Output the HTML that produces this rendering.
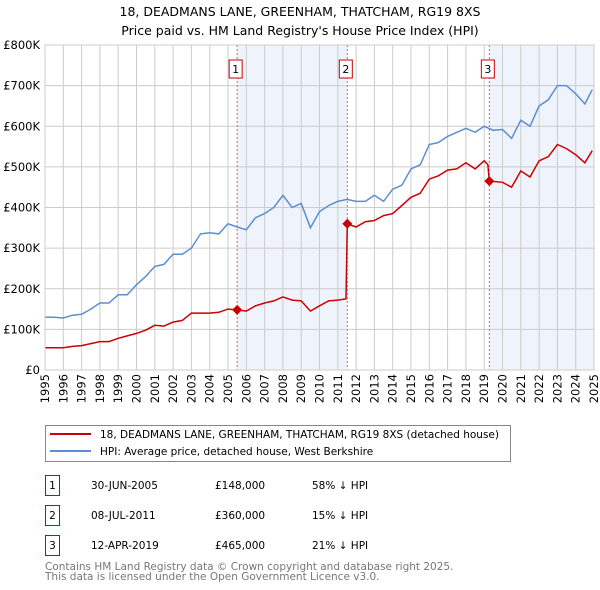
<!DOCTYPE html>
<html><head><meta charset="utf-8"><style>
body{margin:0;background:#fff;font-family:"Liberation Sans","DejaVu Sans",sans-serif;}
#wrap{position:relative;width:600px;height:590px;overflow:hidden}
svg text{font-family:"DejaVu Sans","Liberation Sans",sans-serif;}
</style></head><body>
<div id="wrap">
<svg id="chart" width="600" height="590"></svg>
</div>
<script>
const hpiYears=[1995,1995.5,1996,1996.5,1997,1997.5,1998,1998.5,1999,1999.5,2000,2000.5,2001,2001.5,2002,2002.5,2003,2003.5,2004,2004.5,2005,2005.5,2006,2006.5,2007,2007.5,2008,2008.5,2009,2009.5,2010,2010.5,2011,2011.5,2012,2012.5,2013,2013.5,2014,2014.5,2015,2015.5,2016,2016.5,2017,2017.5,2018,2018.5,2019,2019.5,2020,2020.5,2021,2021.5,2022,2022.5,2023,2023.5,2024,2024.5,2024.9];
const hpiValues=[130,130,128,135,137,150,165,165,185,185,210,230,255,260,285,285,300,335,338,335,360,352,345,375,385,400,430,400,410,350,390,405,415,420,415,415,430,415,445,455,495,505,555,560,575,585,595,585,600,590,592,570,615,600,650,665,700,700,680,655,690];
const propYears=[1995,1996,1996.5,1997,1998,1998.5,1999,2000,2000.5,2001,2001.5,2002,2002.5,2003,2004,2004.5,2005,2005.5,2006,2006.5,2007,2007.5,2008,2008.5,2009,2009.5,2010,2010.5,2011,2011.45,2011.52,2012,2012.5,2013,2013.5,2014,2014.5,2015,2015.5,2016,2016.5,2017,2017.5,2018,2018.5,2019,2019.2,2019.28,2020,2020.5,2021,2021.5,2022,2022.5,2023,2023.5,2024,2024.5,2024.9];
const propValues=[55,55,58,60,70,70,78,90,98,110,108,118,122,140,140,142,150,148,145,158,165,170,180,172,170,145,158,170,172,175,360,352,365,368,380,385,405,425,435,470,478,492,495,510,495,515,505,465,462,450,490,475,515,525,555,545,530,510,540];
const saleYears=[2005.5,2011.52,2019.28];
const saleValues=[148,360,465];
const saleLabels=["1","2","3"];
const yTicks=[0,100,200,300,400,500,600,700,800];
const yTickLabels=["£0","£100K","£200K","£300K","£400K","£500K","£600K","£700K","£800K"];
const xTicks=[1995,1996,1997,1998,1999,2000,2001,2002,2003,2004,2005,2006,2007,2008,2009,2010,2011,2012,2013,2014,2015,2016,2017,2018,2019,2020,2021,2022,2023,2024,2025];

const NS="http://www.w3.org/2000/svg";
const svg=document.getElementById('chart');
const X0=45,X1=594,Y0=370,Y1=45;
const xs=y=>X0+(y-1995)/(2025-1995)*(X1-X0);
const ys=v=>Y0-v/800*(Y0-Y1);
function mk(t,a,p){const e=document.createElementNS(NS,t);for(const k in a)e.setAttribute(k,a[k]);(p||svg).appendChild(e);return e;}

let t=mk('text',{x:300,y:16,'text-anchor':'middle','font-size':'12.5',fill:'#000'});t.textContent="18, DEADMANS LANE, GREENHAM, THATCHAM, RG19 8XS";


t=mk('text',{x:300,y:35,'text-anchor':'middle','font-size':'12.5',fill:'#000'});t.textContent="Price paid vs. HM Land Registry's House Price Index (HPI)";



let s=mk('rect',{x:xs(saleYears[0]),y:Y1,width:xs(saleYears[1])-xs(saleYears[0]),height:Y0-Y1,fill:'#eef3fc'});


s=mk('rect',{x:xs(saleYears[2]),y:Y1,width:X1-xs(saleYears[2]),height:Y0-Y1,fill:'#eef3fc'});



xTicks.forEach((yr,i)=>{
  const l=mk('line',{x1:xs(yr),x2:xs(yr),y1:Y1,y2:Y0,stroke:'#ccc','stroke-width':1});
  
  
  const tx=mk('text',{x:0,y:0,'font-size':'11.5',fill:'#000','text-anchor':'end',transform:`translate(${xs(yr)+4},${Y0+4}) rotate(-90)`});
  tx.textContent=yr;
  
  
});
yTicks.forEach((v,i)=>{
  const l=mk('line',{x1:X0,x2:X1,y1:ys(v),y2:ys(v),stroke:'#ccc','stroke-width':1});
  
  
  const tx=mk('text',{x:X0-5,y:ys(v)+4,'font-size':'11.5',fill:'#000','text-anchor':'end'});
  tx.textContent=yTickLabels[i];
  
  
});

saleYears.forEach((yr,i)=>{
  const l=mk('line',{x1:xs(yr),x2:xs(yr),y1:Y1,y2:Y0,stroke:'#e06060','stroke-width':1,'stroke-dasharray':'2,2'});
  
  
  const bx=xs(yr)-8;
  const r=mk('rect',{x:bx,y:60,width:13,height:18,fill:'#fff',stroke:'#c00','stroke-width':1});
  
  
  const tx=mk('text',{x:bx+6.5,y:73,'font-size':'11','text-anchor':'middle',fill:'#000'});
  tx.textContent=saleLabels[i];
  
  
});

function path(xv,yv){return xv.map((x,i)=>(i?'L':'M')+xs(x).toFixed(1)+','+ys(yv[i]).toFixed(1)).join('');}
let p=mk('path',{d:path(hpiYears,hpiValues),fill:'none',stroke:'#5b8fd0','stroke-width':1.5});


p=mk('path',{d:path(propYears,propValues),fill:'none',stroke:'#cc0000','stroke-width':1.5});


saleYears.forEach((yr,i)=>{
  const cx=xs(yr),cy=ys(saleValues[i]);
  const d=mk('path',{d:`M${cx},${cy-5}L${cx+5},${cy}L${cx},${cy+5}L${cx-5},${cy}Z`,fill:'#cc0000'});
  
  
});
let fr=mk('rect',{x:X0,y:Y1,width:X1-X0,height:Y0-Y1,fill:'none',stroke:'#ccc'});



const lg=mk('g',{});


mk('rect',{x:45.5,y:425.5,width:465,height:36,fill:'#fff',stroke:'#888'},lg);
mk('line',{x1:50,x2:91,y1:434,y2:434,stroke:'#cc0000','stroke-width':2},lg);
mk('line',{x1:50,x2:91,y1:451,y2:451,stroke:'#5b8fd0','stroke-width':2},lg);
t=mk('text',{x:100,y:438,'font-size':'10.5'},lg);t.textContent="18, DEADMANS LANE, GREENHAM, THATCHAM, RG19 8XS (detached house)";


t=mk('text',{x:100,y:455,'font-size':'10.5'},lg);t.textContent="HPI: Average price, detached house, West Berkshire";



const rows=[["1","30-JUN-2005","£148,000","58% ↓ HPI"],["2","08-JUL-2011","£360,000","15% ↓ HPI"],["3","12-APR-2019","£465,000","21% ↓ HPI"]];
rows.forEach((r,i)=>{
  const yc=485.5+i*30;
  const b=mk('rect',{x:45.5,y:yc-10,width:14,height:20,fill:'#fff',stroke:'#c00'});
  
  
  const cols=[[52.5,'middle'],[91,'start'],[215,'start'],[312,'start']];
  r.forEach((c,j)=>{
    const tt=mk('text',{x:cols[j][0],y:yc+3.5,'font-size':'10.5','text-anchor':cols[j][1]});
    tt.textContent=c;
    
    
  });
});
t=mk('text',{x:45,y:570,'font-size':'10.5',fill:'#777'});t.textContent="Contains HM Land Registry data © Crown copyright and database right 2025.";


t=mk('text',{x:45,y:580,'font-size':'10.5',fill:'#777'});t.textContent="This data is licensed under the Open Government Licence v3.0.";


</script>
</body></html>
